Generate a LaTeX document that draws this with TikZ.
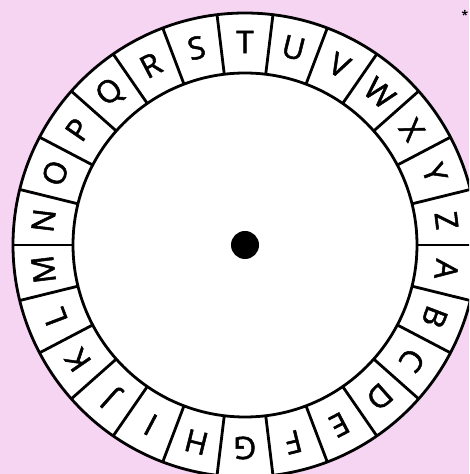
\documentclass[tikz,border=0pt]{standalone}
\usepackage{fontspec}
\setmainfont{Open Sans}
\newfontfamily\wheelfont{Open Sans}[UprightFeatures={FakeBold=1.6}]
\definecolor{bg}{RGB}{245,213,242}
\tikzset{
  ring/.style={draw=black, line width=2.8pt},
  letter/.style={font=\wheelfont\fontsize{31}{31}\selectfont, inner sep=0pt},
}
\begin{document}
\begin{tikzpicture}[x=1pt,y=1pt]
\useasboundingbox (0,0) rectangle (469,474);
\clip (0,0) rectangle (469,474);
\fill[bg] (0,0) rectangle (469,474);
\begin{scope}[shift={(245,229)}]
  \coordinate (c) at (0,0);
  \draw[ring, fill=white] (c) circle (232);
  \draw[ring] (c) circle (172);
  \foreach \l [count=\i from 0] in {T,U,V,W,X,Y,Z,A,B,C,D,E,F,G,H,I,J,K,L,M,N,O,P,Q,R,S} {
    \pgfmathsetmacro\a{90-\i*360/26}
    \pgfmathsetmacro\b{\a+180/26}
    \coordinate (in\l) at (\b:172);
    \coordinate (out\l) at (\b:232);
    \draw[ring] (in\l) -- (out\l);
    \node[letter, rotate=\a-90] (l\l) at (\a:203) {\l};
  }
  \fill (c) circle (14);
\end{scope}
\node[font=\fontsize{12}{12}\selectfont\bfseries, inner sep=0pt] (star) at (465,459) {*};
\end{tikzpicture}
\end{document}
